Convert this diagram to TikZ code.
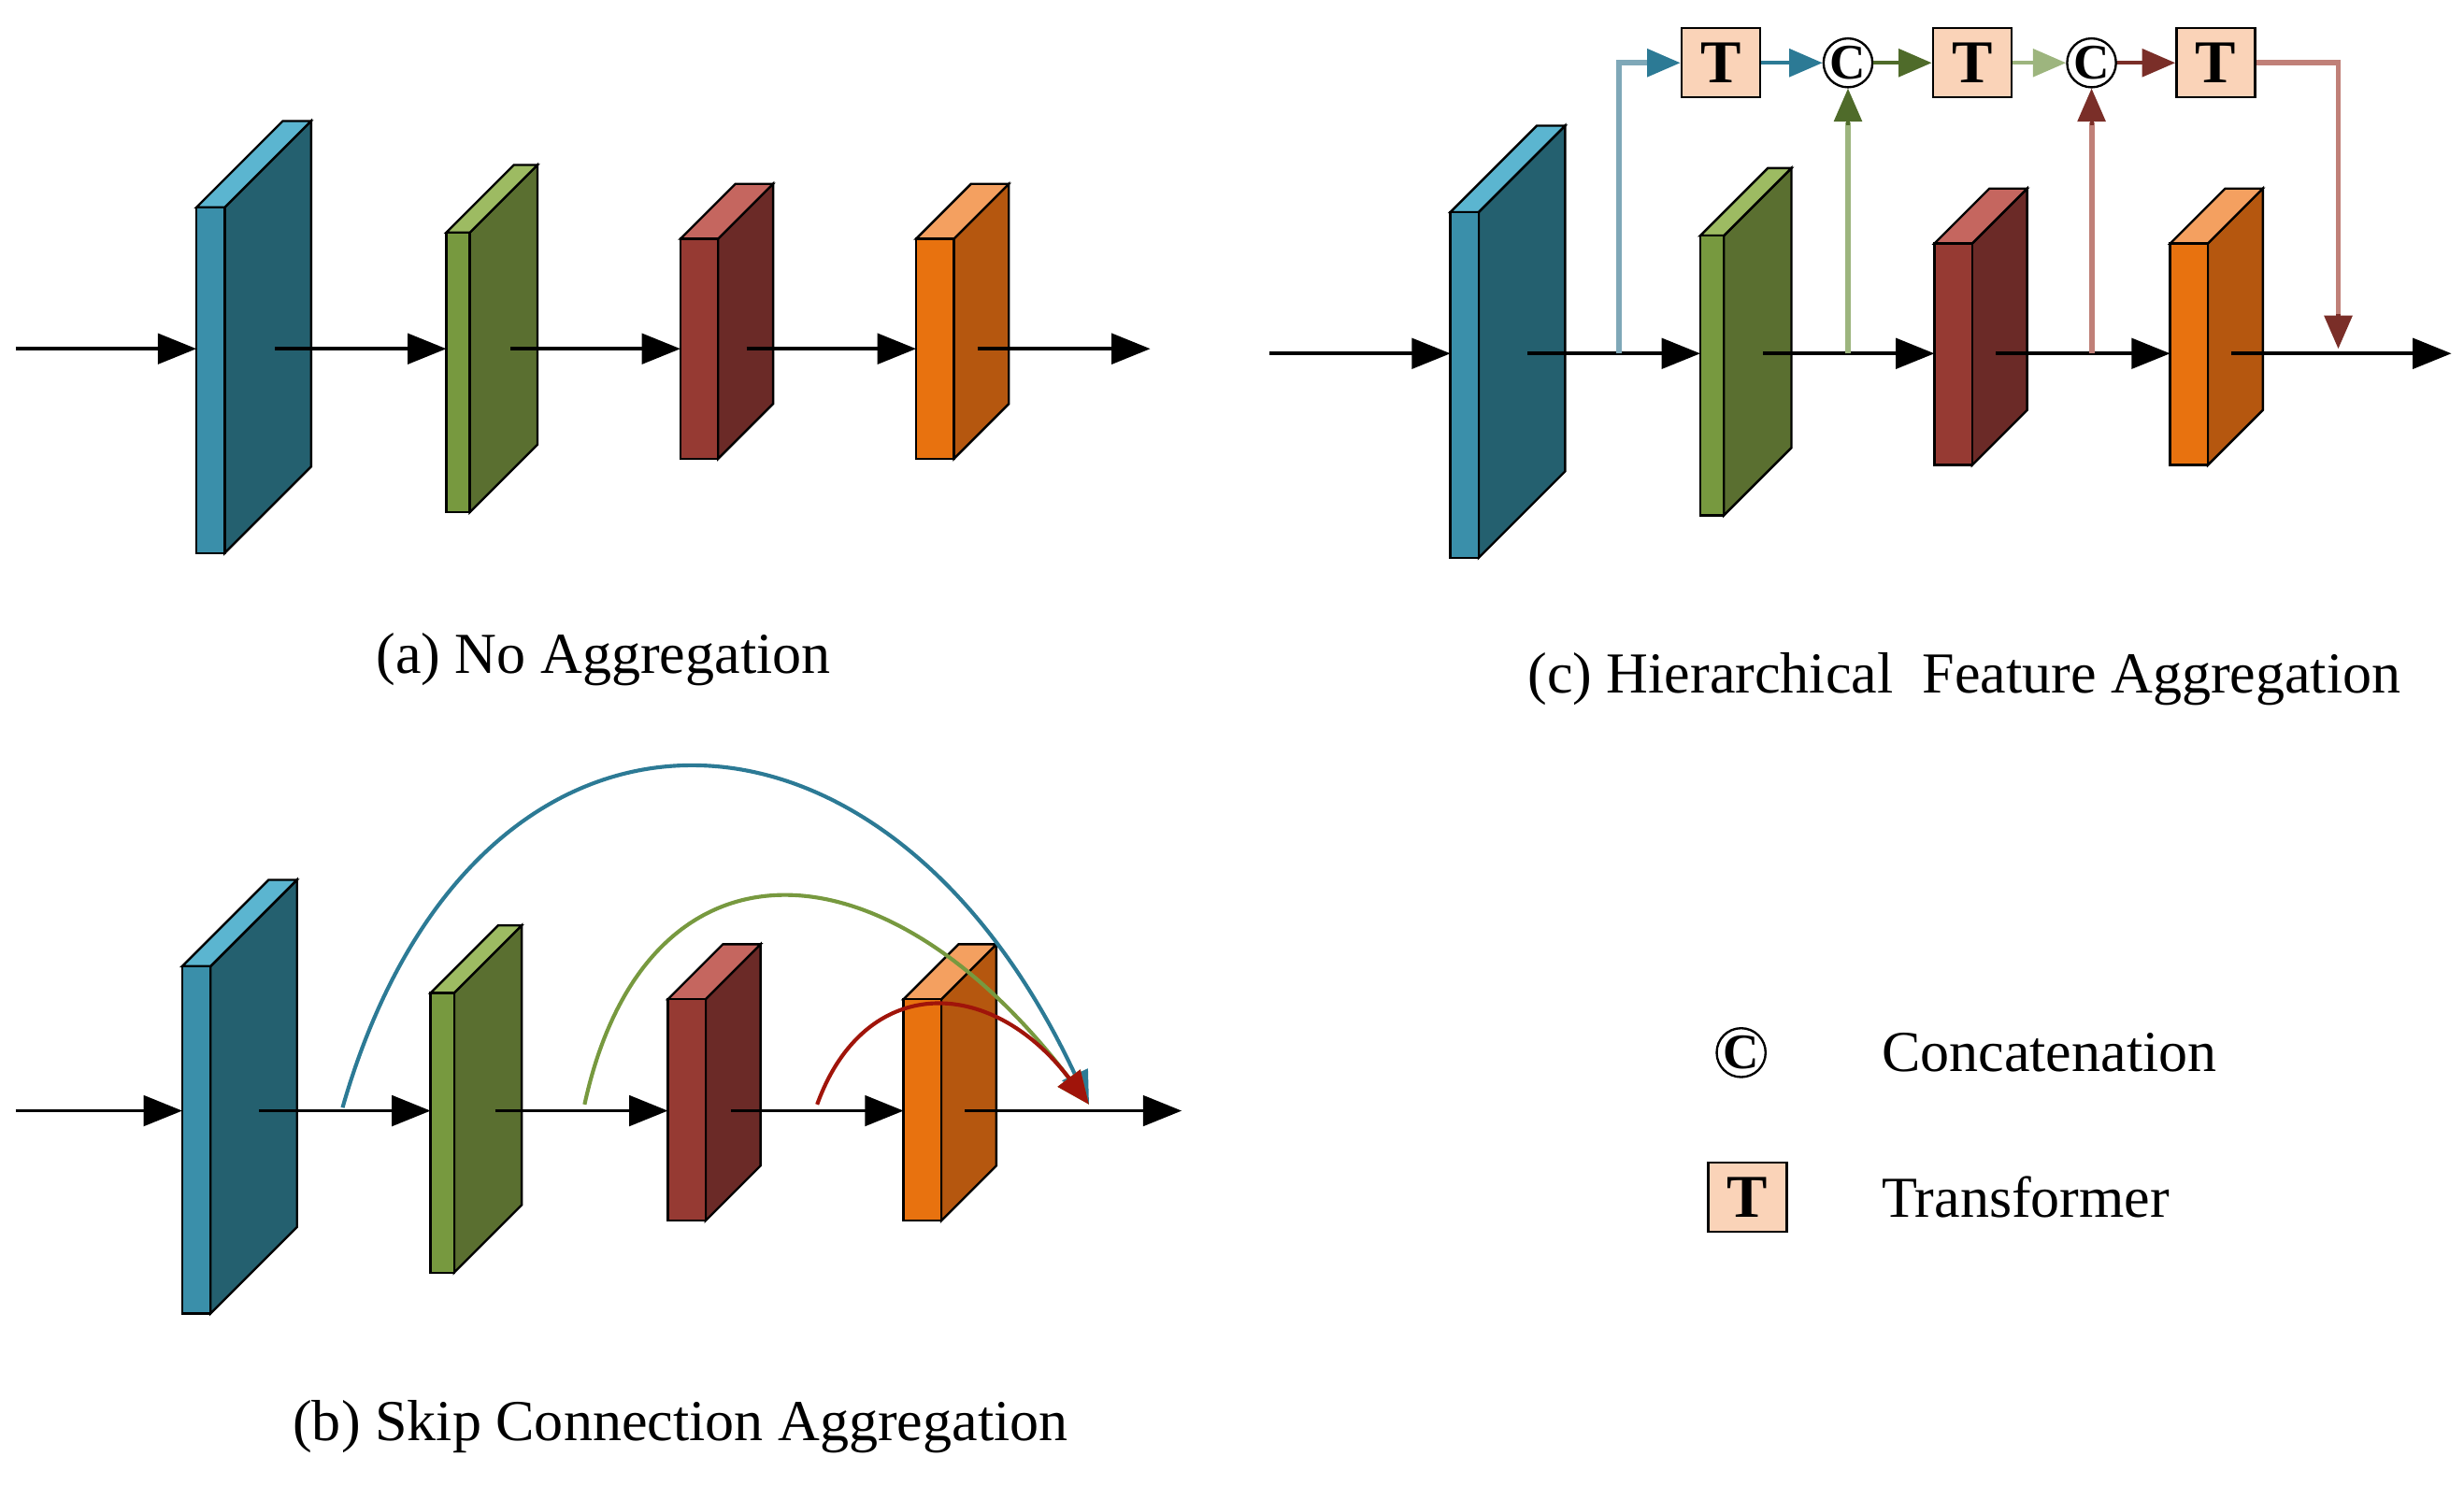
\documentclass[tikz,border=0pt]{standalone}
\usepackage{fontspec}
\setmainfont{Liberation Serif}
\usetikzlibrary{arrows.meta}
\definecolor{bF}{HTML}{3A8FAA}\definecolor{bS}{HTML}{24606F}\definecolor{bT}{HTML}{5BB5D0}
\definecolor{gF}{HTML}{77993F}\definecolor{gS}{HTML}{5A6F30}\definecolor{gT}{HTML}{9DBB62}
\definecolor{rF}{HTML}{963A33}\definecolor{rS}{HTML}{6B2A27}\definecolor{rT}{HTML}{C5665F}
\definecolor{oF}{HTML}{E8720F}\definecolor{oS}{HTML}{B5570F}\definecolor{oT}{HTML}{F4A060}
\definecolor{tbox}{HTML}{FAD3B8}
\definecolor{lblue}{HTML}{7FA8B8}\definecolor{dblue}{HTML}{2C7A95}
\definecolor{lgreen}{HTML}{9DB57E}\definecolor{dgreen}{HTML}{4F6B2A}
\definecolor{lred}{HTML}{C08078}\definecolor{dred}{HTML}{7A2E28}
\definecolor{bred}{HTML}{A0140A}
\newcommand\myslab[8]{% x ytop w h d side front top
 \fill[#6,draw=black] (#1+#3,#2) -- (#1+#3+#5,#2-#5) -- (#1+#3+#5,#2+#4-#5) -- (#1+#3,#2+#4) -- cycle;
 \fill[#8,draw=black] (#1,#2) -- (#1+#5,#2-#5) -- (#1+#3+#5,#2-#5) -- (#1+#3,#2) -- cycle;
 \fill[#7,draw=black] (#1,#2) rectangle (#1+#3,#2+#4);}
\tikzset{
 ar/.style={-{Triangle[length=7pt,width=5.5pt]},line width=0.6pt,black},
 sar/.style={-{Triangle[length=6pt,width=5pt]},line width=0.7pt},
 tb/.style={draw=black,fill=tbox,minimum width=0.5cm,minimum height=0.44cm,inner sep=0pt,font=\bfseries\fontsize{11}{11}\selectfont},
 cc/.style={draw=black,circle,fill=white,minimum size=0.28cm,inner sep=0pt,font=\bfseries\fontsize{9}{9}\selectfont},
 captxt/.style={font=\fontsize{10.5}{13}\selectfont}
}
\begin{document}
\begin{tikzpicture}[x=0.01cm,y=-0.01cm]
\useasboundingbox (0,0) rectangle (1568,945);
% (a)
\myslab{125}{132}{18}{220}{55}{bS}{bF}{bT}
\myslab{284}{148}{15}{178}{43}{gS}{gF}{gT}
\myslab{433}{152}{24}{140}{35}{rS}{rF}{rT}
\myslab{583}{152}{24}{140}{35}{oS}{oF}{oT}
\coordinate (a0) at (10,222);\coordinate (a1) at (125,222);
\coordinate (a2) at (175,222);\coordinate (a3) at (284,222);
\coordinate (a4) at (325,222);\coordinate (a5) at (433,222);
\coordinate (a6) at (475,222);\coordinate (a7) at (583,222);
\coordinate (a8) at (622,222);\coordinate (a9) at (732,222);
\foreach \s/\e in {a0/a1,a2/a3,a4/a5,a6/a7,a8/a9}\draw[ar] (\s)--(\e);
\node[captxt] (capa) at (384,420) {(a) No Aggregation};
% (c)
\myslab{923}{135}{18}{220}{55}{bS}{bF}{bT}
\myslab{1082}{150}{15}{178}{43}{gS}{gF}{gT}
\myslab{1231}{155}{24}{141}{35}{rS}{rF}{rT}
\myslab{1381}{155}{24}{141}{35}{oS}{oF}{oT}
\coordinate (c0) at (808,225);\coordinate (c1) at (923,225);
\coordinate (c2) at (972,225);\coordinate (c3) at (1082,225);
\coordinate (c4) at (1122,225);\coordinate (c5) at (1231,225);
\coordinate (c6) at (1270,225);\coordinate (c7) at (1381,225);
\coordinate (c8) at (1420,225);\coordinate (c9) at (1560,225);
\foreach \s/\e in {c0/c1,c2/c3,c4/c5,c6/c7,c8/c9}\draw[ar] (\s)--(\e);
\node[tb] (T1) at (1095,40) {T};
\node[tb] (T2) at (1255,40) {T};
\node[tb] (T3) at (1410,40) {T};
\node[cc] (C1) at (1176,40) {C};
\node[cc] (C2) at (1331,40) {C};
\coordinate (br) at (1030,225);
\coordinate (bu) at (1176,225);
\coordinate (bv) at (1331,225);
\coordinate (bd) at (1488,222);
\draw[lblue,line width=1pt] (br) |- (1050,40);
\draw[sar,dblue] (1048,40) -- (T1);
\draw[sar,dblue] (T1) -- (C1);
\draw[sar,dgreen] (C1) -- (T2);
\draw[sar,lgreen] (T2) -- (C2);
\draw[sar,dred] (C2) -- (T3);
\draw[lgreen,line width=1pt] (bu) -- (1176,78);
\draw[sar,dgreen] (1176,80) -- (C1);
\draw[lred,line width=1pt] (bv) -- (1331,78);
\draw[sar,dred] (1331,80) -- (C2);
\draw[lred,line width=1pt] (T3) -| (1488,205);
\draw[sar,dred] (1488,200) -- (bd);
\node[captxt] (capc) at (1250,432) {(c) Hierarchical\ \ Feature Aggregation};
% legend
\node[cc] (LC) at (1108,670) {C};
\node[captxt,anchor=west] (LCt) at (1185,670) {Concatenation};
\node[tb] (LT) at (1112,762) {T};
\node[captxt,anchor=west] (LTt) at (1185,762) {Transformer};
% (b)
\myslab{116}{615}{18}{221}{55}{bS}{bF}{bT}
\myslab{274}{632}{15}{178}{43}{gS}{gF}{gT}
\myslab{425}{636}{24}{141}{35}{rS}{rF}{rT}
\myslab{575}{636}{24}{141}{35}{oS}{oF}{oT}
\coordinate (b0) at (10,707);\coordinate (b1) at (116,707);
\coordinate (b2) at (165,707);\coordinate (b3) at (274,707);
\coordinate (b4) at (315,707);\coordinate (b5) at (425,707);
\coordinate (b6) at (465,707);\coordinate (b7) at (575,707);
\coordinate (b8) at (614,707);\coordinate (b9) at (752,707);
\foreach \s/\e in {b0/b1,b2/b3,b4/b5,b6/b7,b8/b9}\draw[ar] (\s)--(\e);
\coordinate (s1) at (218,705);\coordinate (s2) at (372,703);\coordinate (s3) at (520,703);
\coordinate (tgt) at (693,703);
\draw[sar,dblue] (s1) .. controls (300,418) and (560,418) .. (tgt);
\draw[sar,gF] (s2) .. controls (410,528) and (560,528) .. (tgt);
\draw[sar,bred] (s3) .. controls (550,620) and (630,620) .. (tgt);
\node[captxt] (capb) at (433,908) {(b) Skip Connection Aggregation};
\end{tikzpicture}
\end{document}
